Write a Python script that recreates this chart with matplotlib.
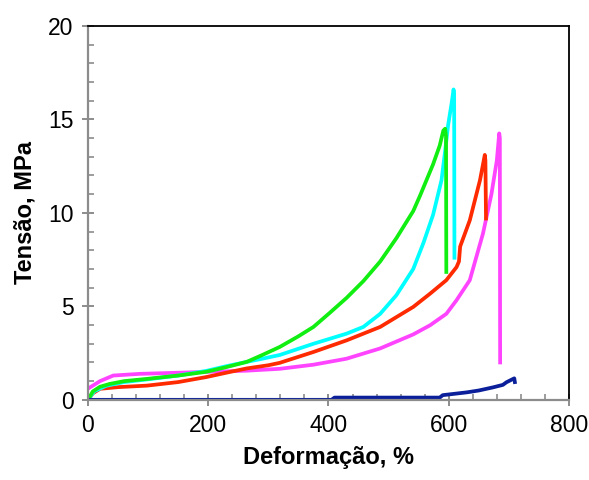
import matplotlib
matplotlib.use("Agg")
import matplotlib.pyplot as plt
from matplotlib.ticker import MultipleLocator

# Stress-strain curves (Deformação %, Tensão MPa)
green_x = [0, 8, 20, 36, 60, 98, 150, 197, 230, 264, 290, 319, 350, 375, 402,
           430, 458, 486, 513, 541, 552, 563, 574, 585, 591, 594, 595.5, 596]
green_y = [0, 0.45, 0.7, 0.85, 1.0, 1.12, 1.3, 1.5, 1.75, 2.03, 2.4, 2.83, 3.4, 3.9, 4.65,
           5.45, 6.35, 7.4, 8.65, 10.1, 10.9, 11.75, 12.6, 13.6, 14.4, 14.5, 14.1, 6.84]

cyan_x = [0, 10, 30, 60, 100, 150, 197, 230, 264, 290, 319, 375, 430, 458, 486,
          513, 541, 558, 574, 588, 594, 599, 605, 608, 609, 609.5]
cyan_y = [0, 0.45, 0.75, 0.95, 1.1, 1.3, 1.55, 1.8, 2.03, 2.2, 2.4, 3.0, 3.54, 3.9, 4.6,
          5.6, 7.0, 8.4, 9.9, 11.75, 13.3, 14.7, 15.9, 16.6, 16.4, 7.6]

red_x = [0, 8, 20, 50, 98, 150, 197, 230, 264, 300, 319, 375, 430, 486, 541,
         569, 596, 613, 617, 619, 635, 652, 660, 661, 662]
red_y = [0, 0.35, 0.59, 0.68, 0.76, 0.95, 1.22, 1.45, 1.68, 1.85, 1.98, 2.56, 3.18, 3.9, 4.97,
         5.68, 6.4, 7.1, 7.4, 8.2, 9.6, 11.75, 13.1, 12.8, 9.7]

magenta_x = [0, 10, 20, 42, 86, 150, 200, 264, 319, 375, 430, 486, 541, 569, 596,
             613, 635, 657, 671, 680, 684, 685, 685.5]
magenta_y = [0.6, 0.8, 1.0, 1.3, 1.39, 1.45, 1.5, 1.56, 1.66, 1.88, 2.2, 2.75, 3.5, 3.99, 4.6,
             5.33, 6.4, 8.9, 11.0, 12.8, 14.25, 14.0, 2.0]

navy_x = [0, 405, 410, 585, 590, 630, 650, 674, 690, 696, 709, 710]
navy_y = [0, 0, 0.12, 0.12, 0.25, 0.4, 0.5, 0.67, 0.8, 0.94, 1.15, 0.95]

plt.rcParams['font.family'] = ['Liberation Sans', 'DejaVu Sans']

fig = plt.figure(figsize=(5.89, 4.8), dpi=100)
ax = fig.add_axes([0.1494, 0.167, 0.8166, 0.779])

lw = 2.7
ax.plot(magenta_x, magenta_y, color='#FF44FF', lw=lw, solid_joinstyle='round')
ax.plot(red_x, red_y, color='#FF2A00', lw=lw, solid_joinstyle='round')
ax.plot(cyan_x, cyan_y, color='#00FFFF', lw=lw, solid_joinstyle='round')
ax.plot(green_x, green_y, color='#11EE11', lw=lw, solid_joinstyle='round')
ax.plot(navy_x, navy_y, color='#0A1F99', lw=lw, solid_joinstyle='round')

ax.set_xlim(0, 800)
ax.set_ylim(0, 20)
ax.xaxis.set_major_locator(MultipleLocator(200))
ax.xaxis.set_minor_locator(MultipleLocator(40))
ax.yaxis.set_major_locator(MultipleLocator(5))
ax.yaxis.set_minor_locator(MultipleLocator(1))

gray = '#8C8C8C'
for side in ['left', 'bottom']:
    ax.spines[side].set_color(gray)
    ax.spines[side].set_linewidth(1.6)
for side in ['top', 'right']:
    ax.spines[side].set_color('black')
    ax.spines[side].set_linewidth(1.3)

ax.tick_params(which='major', direction='inout', length=9, width=1.4, color=gray,
               labelsize=16.5, pad=6, top=False, right=False)
ax.tick_params(which='minor', direction='in', length=4, width=1.2, color=gray,
               top=False, right=False)

ax.set_xlabel('Deformação, %', fontsize=17, fontweight='bold', labelpad=6)
ax.set_ylabel('Tensão, MPa', fontsize=17, fontweight='bold', labelpad=8)

fig.savefig('out.png', dpi=100)
